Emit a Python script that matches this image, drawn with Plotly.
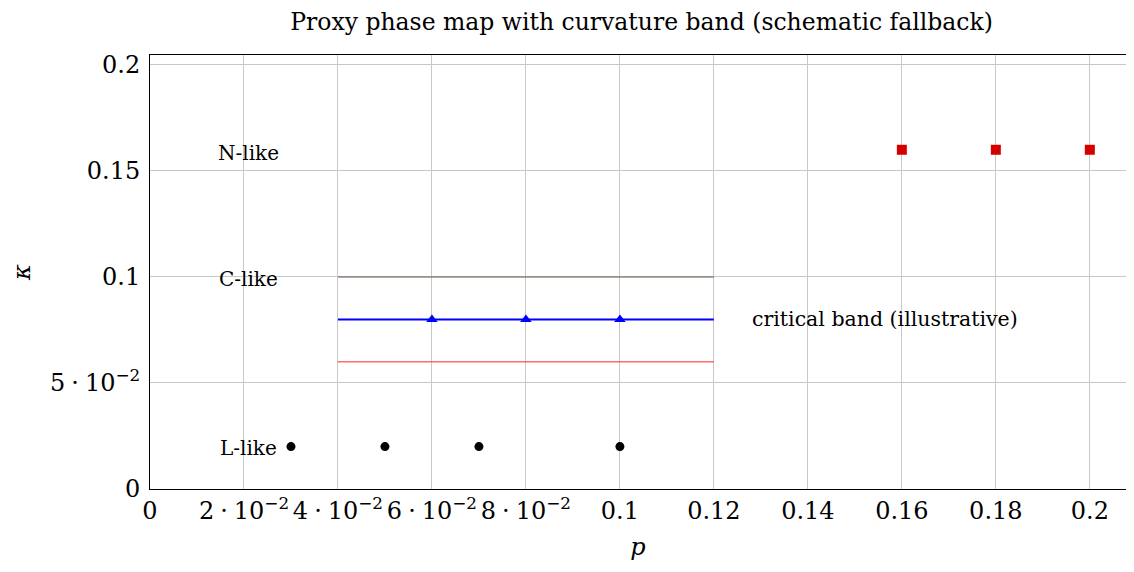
import plotly.graph_objects as go

# Data
l_p = [0.03, 0.05, 0.07, 0.10]
l_k = [0.02, 0.02, 0.02, 0.02]
c_p = [0.06, 0.08, 0.10]
c_k = [0.08, 0.08, 0.08]
n_p = [0.16, 0.18, 0.20]
n_k = [0.16, 0.16, 0.16]
band_p = [0.04, 0.12]
band_mid = [0.08, 0.08]
band_low = [0.06, 0.06]
band_high = [0.10, 0.10]
region_labels = ["N-like", "C-like", "L-like"]
region_p = [0.021, 0.021, 0.021]
region_k = [0.1585, 0.099, 0.0195]
band_label = "critical band (illustrative)"
band_label_p = 0.1565
band_label_k = 0.08

S = "\u2005"
x_tickvals = [0, 0.02, 0.04, 0.06, 0.08, 0.1, 0.12, 0.14, 0.16, 0.18, 0.2]
x_ticktext = ["0", f"2{S}·{S}10<sup>−2</sup>", f"4{S}·{S}10<sup>−2</sup>", f"6{S}·{S}10<sup>−2</sup>",
              f"8{S}·{S}10<sup>−2</sup>", "0.1", "0.12", "0.14", "0.16", "0.18", "0.2"]
y_tickvals = [0, 0.05, 0.1, 0.15, 0.2]
y_ticktext = ["0", f"5{S}·{S}10<sup>−2</sup>", "0.1", "0.15", "0.2"]

FONT = "DejaVu Serif"

fig = go.Figure()
fig.add_trace(go.Scatter(x=band_p, y=band_high, mode="lines",
                         line=dict(color="rgb(105,85,70)", width=1.2), showlegend=False))
fig.add_trace(go.Scatter(x=band_p, y=band_low, mode="lines",
                         line=dict(color="rgba(255,60,60,0.75)", width=1.5), showlegend=False))
fig.add_trace(go.Scatter(x=band_p, y=band_mid, mode="lines",
                         line=dict(color="#0000ff", width=2), showlegend=False))
fig.add_trace(go.Scatter(x=c_p, y=c_k, mode="markers",
                         marker=dict(symbol="triangle-up", color="#0000ff", size=10), showlegend=False))
fig.add_trace(go.Scatter(x=l_p, y=l_k, mode="markers",
                         marker=dict(symbol="circle", color="black", size=9), showlegend=False))
fig.add_trace(go.Scatter(x=n_p, y=n_k, mode="markers",
                         marker=dict(symbol="square", color="#d40000", size=10), showlegend=False))

for t, xp, yk in zip(region_labels, region_p, region_k):
    fig.add_annotation(x=xp, y=yk, text=t, showarrow=False,
                       font=dict(family=FONT, size=20, color="black"))
fig.add_annotation(x=band_label_p, y=band_label_k, text=band_label, showarrow=False,
                   font=dict(family=FONT, size=20.5, color="black"))

# page body has an 8px margin: figure is placed at (8, 8)
fig.update_layout(
    width=1118, height=556,
    margin=dict(l=142, r=0, t=47, b=75),
    paper_bgcolor="white", plot_bgcolor="white",
    title=dict(text="Proxy phase map with curvature band (schematic fallback)",
               x=0.5667, xanchor="center", y=0.99, yanchor="top", pad=dict(t=0),
               font=dict(family=FONT, size=23.5, color="black")),
    font=dict(family=FONT, color="black"),
)
fig.update_xaxes(range=[0, 0.2077], tickvals=x_tickvals, ticktext=x_ticktext,
                 showgrid=True, gridcolor="rgb(200,200,200)", gridwidth=1,
                 showline=True, linecolor="black", linewidth=1, mirror=True,
                 ticks="", zeroline=False, automargin=False, tickangle=0,
                 tickfont=dict(family=FONT, size=24),
                 title=dict(text="<i>p</i>", font=dict(family=FONT, size=24), standoff=14))
fig.update_yaxes(range=[0, 0.2047], tickvals=y_tickvals, ticktext=y_ticktext,
                 showgrid=True, gridcolor="rgb(200,200,200)", gridwidth=1,
                 showline=True, linecolor="black", linewidth=1, mirror=True,
                 ticks="", zeroline=False, automargin=False, ticklabelstandoff=4,
                 tickfont=dict(family=FONT, size=24),
                 title=dict(text="<i>κ</i>", font=dict(family=FONT, size=24), standoff=12))

fig.write_html("out.html")
